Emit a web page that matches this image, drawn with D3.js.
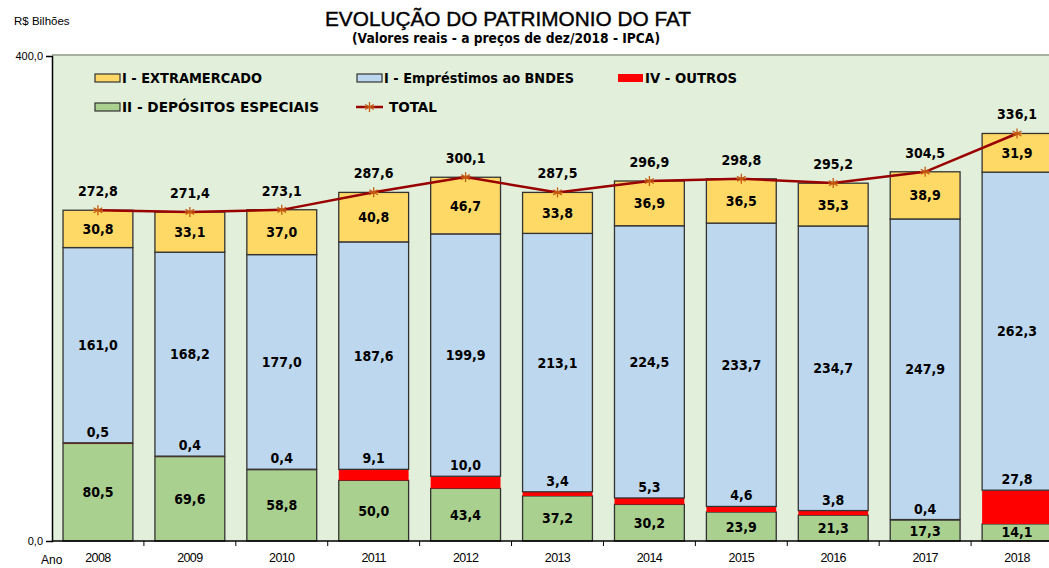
<!DOCTYPE html>
<html lang="pt">
<head>
<meta charset="utf-8">
<title>Evolução do Patrimonio do FAT</title>
<script src="https://cdn.jsdelivr.net/npm/d3@7/dist/d3.min.js"></script>
<style>
  body { margin: 0; background: #fff; }
  svg { display: block; }
  .narrow { font-family: "Liberation Sans Narrow", "Arial Narrow", "DejaVu Sans Condensed", sans-serif; font-weight: bold; }
  .plain { font-family: "Liberation Sans", Arial, sans-serif; }
</style>
</head>
<body>
<div id="chart"></div>
<script>
// dados (R$ bilhões, valores reais a preços de dez/2018)
var anos = ["2008","2009","2010","2011","2012","2013","2014","2015","2016","2017","2018"];
var depositos = [80.5, 69.6, 58.8, 50.0, 43.4, 37.2, 30.2, 23.9, 21.3, 17.3, 14.1];
var outros = [0.5, 0.4, 0.4, 9.1, 10.0, 3.4, 5.3, 4.6, 3.8, 0.4, 27.8];
var bndes = [161.0, 168.2, 177.0, 187.6, 199.9, 213.1, 224.5, 233.7, 234.7, 247.9, 262.3];
var extramercado = [30.8, 33.1, 37.0, 40.8, 46.7, 33.8, 36.9, 36.5, 35.3, 38.9, 31.9];
var total = [272.8, 271.4, 273.1, 287.6, 300.1, 287.5, 296.9, 298.8, 295.2, 304.5, 336.1];
var yTicks = [0, 400];

var width = 1049, height = 568;
var fmt = function(v) { return d3.format(".1f")(v).replace(".", ","); };

var svg = d3.select("#chart").append("svg")
    .attr("width", width)
    .attr("height", height);

var x = d3.scaleBand().domain(anos).range([52, 1063]).paddingInner(0.24).paddingOuter(0.12);
var y = d3.scaleLinear().domain([0, 400]).range([541, 56]);

// area do grafico
svg.append("rect")
    .attr("x", 52).attr("y", 55)
    .attr("width", width - 52).attr("height", 541 - 55)
    .attr("fill", "#e2efda");
svg.append("line")
    .attr("x1", 52).attr("x2", width)
    .attr("y1", 55).attr("y2", 55)
    .attr("stroke", "#a6b0a0").attr("stroke-width", 2);

// empilhamento
var rows = anos.map(function(a, i) {
  return { ano: a, depositos: depositos[i], outros: outros[i], bndes: bndes[i], extramercado: extramercado[i] };
});
var keys = ["depositos", "outros", "bndes", "extramercado"];
var cores = { depositos: "#a9d08e", outros: "#ff0000", bndes: "#bdd7ee", extramercado: "#ffd966" };
var stack = d3.stack().keys(keys)(rows);

var segs = [];
stack.forEach(function(layer) {
  layer.forEach(function(p) { p.key = layer.key; segs.push(p); });
});

svg.append("g").selectAll("rect")
  .data(segs)
  .enter().append("rect")
    .attr("x", function(d) { return x(d.data.ano); })
    .attr("width", x.bandwidth())
    .attr("y", function(d) { return y(d[1]); })
    .attr("height", function(d) { return y(d[0]) - y(d[1]); })
    .attr("fill", function(d) { return cores[d.key]; })
    .attr("stroke", function(d) { return d.key == "outros" ? "none" : "#333"; })
    .attr("stroke-width", 1.3);

// rotulos dos segmentos (depois das barras, senao ficam escondidos)
svg.append("g").selectAll("text")
  .data(segs)
  .enter().append("text")
    .attr("class", "narrow")
    .attr("font-size", 14)
    .attr("text-anchor", "middle")
    .attr("x", function(d) { return x(d.data.ano) + x.bandwidth() / 2; })
    .attr("y", function(d) {
      if (d.key == "outros") return y(d[1]) - 6;
      return (y(d[0]) + y(d[1])) / 2 + 5;
    })
    .text(function(d) { return fmt(d.data[d.key]); });

// linha do total
var line = d3.line()
    .x(function(d, i) { return x(anos[i]) + x.bandwidth() / 2; })
    .y(function(d) { return y(d); });

svg.append("path")
    .datum(total)
    .attr("d", line)
    .attr("fill", "none")
    .attr("stroke", "#990000")
    .attr("stroke-width", 2.5);

function estrela(g, cx, cy) {
  var r = 5;
  [0, 60, 120].forEach(function(a) {
    var t = a * Math.PI / 180;
    g.append("line")
      .attr("x1", cx - r * Math.sin(t)).attr("y1", cy - r * Math.cos(t))
      .attr("x2", cx + r * Math.sin(t)).attr("y2", cy + r * Math.cos(t))
      .attr("stroke", "#c55a11").attr("stroke-width", 1.3);
  });
  g.append("line")
    .attr("x1", cx - r).attr("x2", cx + r)
    .attr("y1", cy).attr("y2", cy)
    .attr("stroke", "#c55a11").attr("stroke-width", 1.3);
}

var marks = svg.append("g");
total.forEach(function(v, i) {
  var cx = x(anos[i]) + x.bandwidth() / 2;
  estrela(marks, cx, y(v));
});

svg.selectAll("text.total").data(total).enter()
  .append("text")
    .attr("class", "narrow total")
    .attr("font-size", 14)
    .attr("text-anchor", "middle")
    .attr("x", function(d, i) { return x(anos[i]) + x.bandwidth() / 2; })
    .attr("y", function(d) { return y(d) - 14; })
    .text(function(d) { return fmt(d); });

// eixo y
var yAxis = svg.append("g")
    .attr("transform", "translate(52,0)")
    .call(d3.axisLeft(y).tickValues(yTicks).tickSize(6).tickFormat(fmt));
yAxis.select(".domain").attr("stroke", "#000").attr("stroke-width", 1.5);
yAxis.selectAll("text").attr("class", "plain").attr("font-size", 11).attr("fill", "#000");

// eixo x
var xAxis = svg.append("g").attr("transform", "translate(0,541)");
xAxis.append("line")
    .attr("x1", 52).attr("x2", width)
    .attr("stroke", "#000").attr("stroke-width", 1.5);
xAxis.selectAll("line.tick").data(anos).enter()
  .append("line")
    .attr("x1", function(d) { return x(d) + x.bandwidth() / 2 + x.step() / 2; })
    .attr("x2", function(d) { return x(d) + x.bandwidth() / 2 + x.step() / 2; })
    .attr("y1", 0).attr("y2", 5)
    .attr("stroke", "#000");
xAxis.selectAll("text").data(anos).enter()
  .append("text")
    .attr("class", "plain")
    .attr("font-size", 12.5)
    .attr("text-anchor", "middle")
    .attr("x", function(d) { return x(d) + x.bandwidth() / 2; })
    .attr("y", 21)
    .attr("letter-spacing", -0.6)
    .text(function(d) { return d; });

svg.append("text").attr("class", "plain").attr("font-size", 12)
    .attr("x", 41).attr("y", 564).text("Ano");
svg.append("text").attr("class", "plain").attr("font-size", 11.5)
    .attr("x", 14).attr("y", 25).text("R$ Bilhões");

// titulos
svg.append("text").attr("class", "plain")
    .attr("font-size", 20).attr("text-anchor", "middle")
    .attr("x", 508).attr("y", 26)
    .attr("textLength", 366).attr("lengthAdjust", "spacingAndGlyphs")
    .attr("stroke", "#000").attr("stroke-width", 0.4)
    .text("EVOLUÇÃO DO PATRIMONIO DO FAT");
svg.append("text").attr("class", "narrow")
    .attr("font-size", 14).attr("text-anchor", "middle")
    .attr("x", 506).attr("y", 43)
    .attr("textLength", 308).attr("lengthAdjust", "spacingAndGlyphs")
    .text("(Valores reais - a preços de dez/2018 - IPCA)");

// legenda
var legenda = [
  { nome: "I - EXTRAMERCADO", cor: cores.extramercado, x: 95, y: 78, w: 140 },
  { nome: "I - Empréstimos ao BNDES", cor: cores.bndes, x: 357, y: 78, w: 190 },
  { nome: "IV - OUTROS", cor: cores.outros, x: 618, y: 78, w: 92, semBorda: true },
  { nome: "II - DEPÓSITOS ESPECIAIS", cor: cores.depositos, x: 95, y: 107, w: 197 }
];
var lg = svg.append("g");
legenda.forEach(function(d) {
  lg.append("rect")
    .attr("x", d.x).attr("y", d.y - 4).attr("width", 25).attr("height", 8)
    .attr("fill", d.cor)
    .attr("stroke", d.semBorda ? "none" : "#333").attr("stroke-width", 1.2);
  lg.append("text").attr("class", "narrow").attr("font-size", 14)
    .attr("x", d.x + 27).attr("y", d.y + 5)
    .attr("textLength", d.w).attr("lengthAdjust", "spacingAndGlyphs")
    .text(d.nome);
});
lg.append("line")
  .attr("x1", 356).attr("x2", 383).attr("y1", 107).attr("y2", 107)
  .attr("stroke", "#990000").attr("stroke-width", 2.5);
estrela(lg, 369.5, 107);
lg.append("text").attr("class", "narrow").attr("font-size", 14)
  .attr("x", 389).attr("y", 112)
  .attr("textLength", 48).attr("lengthAdjust", "spacingAndGlyphs")
  .text("TOTAL");
</script>
</body>
</html>
